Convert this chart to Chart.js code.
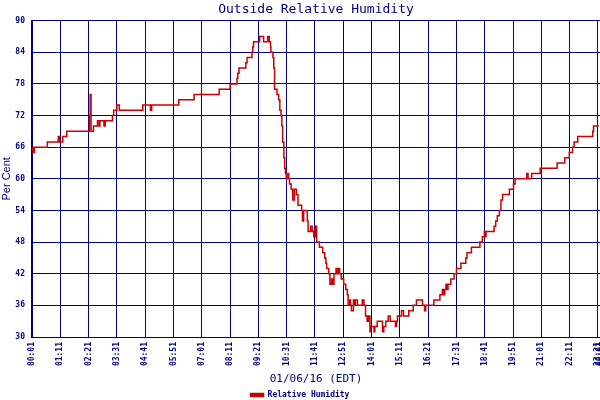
<!DOCTYPE html>
<html>
<head>
<meta charset="utf-8">
<script src="https://cdn.jsdelivr.net/npm/chart.js@4"></script>
<style>
  html, body { margin: 0; padding: 0; background: #fff; }
  #wrap { width: 600px; height: 400px; }
</style>
</head>
<body>
<div id="wrap"><canvas id="grafico"></canvas></div>
<script>
// minutos desde medianoche en que cambia la humedad, y su nuevo valor (%)
const minutos = [
  1, 3, 4, 7, 39, 66, 69, 77, 87, 143, 145, 147, 153, 163, 167, 169, 179, 182,
  200, 203, 211, 217, 275, 294, 297, 364, 402, 464, 491, 508, 510, 513, 530, 533,
  545, 547, 549, 564, 574, 584, 588, 591, 592, 597, 599, 601, 607, 611, 614, 617,
  619, 621, 624, 626, 628, 630, 634, 636, 638, 642, 646, 650, 655, 659, 668, 670,
  673, 682, 684, 690, 694, 698, 702, 705, 712, 720, 725, 728, 730, 735, 738, 742,
  745, 748, 753, 756, 759, 762, 766, 772, 777, 781, 783, 787, 789, 791, 796, 799,
  801, 806, 818, 822, 826, 830, 833, 837, 839, 847, 849, 855, 868, 871, 876, 882,
  887, 900, 903, 905, 915, 920, 933, 944, 952, 967, 972, 975, 995, 1010, 1016, 1019,
  1022, 1025, 1028, 1030, 1037, 1045, 1051, 1062, 1074, 1077, 1088, 1109, 1115, 1120,
  1122, 1124, 1144, 1148, 1152, 1157, 1161, 1165, 1182, 1192, 1196, 1225, 1228, 1237,
  1258, 1300, 1319, 1330, 1338, 1342, 1351, 1388, 1390, 1403
];
const humedad = [
  65, 66, 65, 66, 67, 68, 67, 68, 69, 72, 76, 69, 70, 71, 70, 71, 70, 71,
  72, 73, 74, 73, 74, 73, 74, 75, 76, 77, 78, 79, 80, 81, 82, 83,
  84, 85, 86, 87, 86, 87, 86, 85, 84, 83, 81, 77, 76, 75, 73, 72,
  70, 67, 64, 62, 61, 60, 61, 60, 59, 58, 56, 58, 57, 55, 54, 52,
  54, 52, 50, 51, 50, 49, 51, 48, 47, 46, 45, 44, 43, 42, 40, 41,
  40, 42, 43, 42, 43, 42, 41, 40, 39, 38, 36, 37, 36, 35, 37, 36,
  37, 36, 37, 36, 34, 33, 34, 31, 32, 31, 32, 33, 31, 32, 33, 34,
  33, 32, 33, 34, 35, 34, 35, 36, 37, 36, 35, 36, 37, 38, 39, 38,
  39, 40, 39, 40, 41, 42, 43, 44, 45, 46, 47, 48, 49, 50,
  49, 50, 51, 52, 53, 54, 56, 57, 58, 59, 60, 61, 60, 61,
  62, 63, 64, 65, 66, 67, 68, 69, 70, 70
];

// marcas del eje horizontal
const marcasMin = [1, 71, 141, 211, 281, 351, 421, 491, 561, 631, 701, 771, 841, 911, 981,
  1051, 1121, 1191, 1261, 1331, 1401, 1406];
const marcasTxt = ["00:01", "01:11", "02:21", "03:31", "04:41", "05:51", "07:01", "08:11",
  "09:21", "10:31", "11:41", "12:51", "14:01", "15:11", "16:21", "17:31", "18:41", "19:51",
  "21:01", "22:11", "23:21", "00:01"];

const azul = "#000080";
const rojo = "#cc0000";
const mono = "'DejaVu Sans Mono', monospace";
const bajo = 9; // el recuadro de la leyenda baja un poco fuera del lienzo

const puntos = minutos.map((m, i) => ({ x: m, y: humedad[i] }));

new Chart(document.getElementById("grafico"), {
  type: "line",
  data: {
    datasets: [{
      label: "Relative Humidity",
      data: puntos,
      stepped: "before",
      borderColor: rojo,
      backgroundColor: rojo,
      borderWidth: 1.5,
      pointRadius: 0,
      fill: false
    }]
  },
  options: {
    responsive: true,
    maintainAspectRatio: false,
    animation: false,
    layout: { padding: { top: 0, left: 0, right: 0, bottom: -bajo } },
    scales: {
      x: {
        type: "linear",
        min: 1,
        max: 1406,
        afterBuildTicks: scale => {
          scale.ticks = marcasMin.map(v => ({ value: v }));
        },
        afterFit: scale => {
          scale.paddingLeft = 0;
          scale.paddingRight = 0;
          scale.height = 400 + bajo - 337 - scale.chart.legend.height;
        },
        grid: { color: azul, lineWidth: 1, drawTicks: false },
        border: { color: azul, width: 1 },
        ticks: {
          autoSkip: false,
          minRotation: 90,
          maxRotation: 90,
          padding: 5,
          color: azul,
          font: { family: mono, size: 8, weight: "bold" },
          callback: (v, i) => marcasTxt[i]
        },
        title: {
          display: true,
          text: "01/06/16 (EDT)",
          color: azul,
          font: { family: mono, size: 11 },
          padding: { top: 0, bottom: 4 }
        }
      },
      y: {
        min: 30,
        max: 90,
        afterFit: scale => { scale.width = 32; },
        grid: { color: azul, lineWidth: 1, drawTicks: false },
        border: { color: azul, width: 2 },
        ticks: {
          stepSize: 6,
          padding: 7,
          color: azul,
          font: { family: mono, size: 8, weight: "bold" }
        },
        title: {
          display: true,
          text: "Per Cent",
          color: azul,
          font: { family: "'Liberation Sans', sans-serif", size: 11 },
          padding: { top: 0, bottom: 0 }
        }
      }
    },
    plugins: {
      title: {
        display: true,
        text: "Outside Relative Humidity",
        color: azul,
        fullSize: false,
        font: { family: mono, size: 13, weight: "normal" },
        padding: { top: 2, bottom: 3 }
      },
      legend: {
        position: "bottom",
        labels: {
          color: azul,
          boxWidth: 13,
          boxHeight: 3,
          padding: 1,
          font: { family: mono, size: 8, weight: "bold" }
        }
      },
      tooltip: { enabled: false }
    }
  }
});
</script>
</body>
</html>
